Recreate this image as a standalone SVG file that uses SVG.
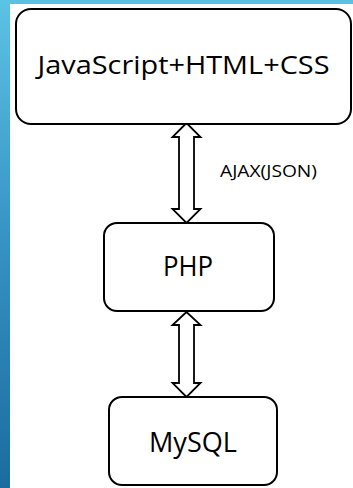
<svg xmlns="http://www.w3.org/2000/svg" width="353" height="488" viewBox="0 0 353 488">
<defs>
<linearGradient id="band" x1="0" y1="0" x2="0" y2="1">
<stop offset="0" stop-color="#5cc3e4"/>
<stop offset="0.5" stop-color="#3592c4"/>
<stop offset="1" stop-color="#1b6c9e"/>
</linearGradient>
</defs>
<style>
.box{fill:#fff;stroke:#000;stroke-width:2}
.arrow{fill:#fff;stroke:#000;stroke-width:1.8;stroke-linejoin:miter}
.lbl{font-family:"Open Sans","Noto Sans",sans-serif;fill:#000;text-anchor:middle}
</style>
<rect x="0" y="0" width="353" height="488" fill="#fff"/>
<rect x="0" y="0" width="353" height="4" fill="#5bc0e2"/>
<rect x="0" y="0" width="10" height="488" fill="url(#band)"/>
<g id="connectors">
<polygon class="arrow" points="186.5,123 172.5,137 179,137 179,209 172.5,209 186.5,223 200.5,209 194,209 194,137 200.5,137"/>
<polygon class="arrow" points="186.5,312 172.5,325 179,325 179,383 172.5,383 186.5,397 200.5,383 194,383 194,325 200.5,325"/>
<text class="lbl" x="268.5" y="177" font-size="16" textLength="97" lengthAdjust="spacingAndGlyphs">AJAX(JSON)</text>
</g>
<g id="client">
<rect class="box" x="16" y="9" width="335" height="115" rx="15"/>
<text class="lbl" x="183.5" y="74" font-size="25" textLength="292" lengthAdjust="spacingAndGlyphs">JavaScript+HTML+CSS</text>
</g>
<g id="php">
<rect class="box" x="104" y="223" width="170" height="88" rx="13"/>
<text class="lbl" x="188" y="276" font-size="27" textLength="50" lengthAdjust="spacingAndGlyphs">PHP</text>
</g>
<g id="mysql">
<rect class="box" x="109" y="397" width="168" height="88" rx="13"/>
<text class="lbl" x="193" y="452" font-size="27" textLength="88" lengthAdjust="spacingAndGlyphs">MySQL</text>
</g>
</svg>
